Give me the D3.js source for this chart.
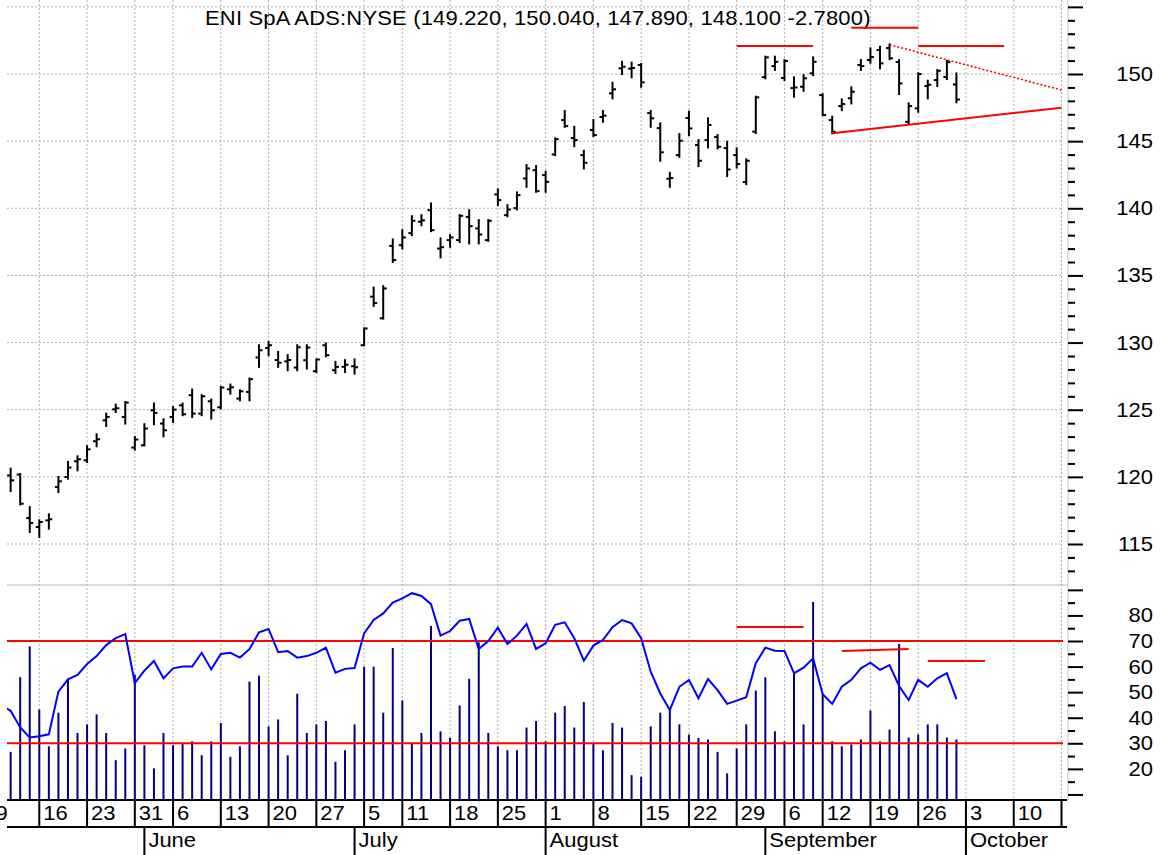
<!DOCTYPE html>
<html>
<head>
<meta charset="utf-8">
<script src="https://cdn.jsdelivr.net/npm/d3@7"></script>
<style>
body { margin: 0; background: #fff; }
svg { display: block; font-family: "Liberation Sans", Arial, sans-serif; }
</style>
</head>
<body>
<div id="chart"></div>
<script>
// chart data
const title = "ENI SpA ADS:NYSE (149.220, 150.040, 147.890, 148.100 -2.7800)";
const holidays = ["2011-05-30", "2011-07-04", "2011-09-05"];
const firstDate = "2011-05-10"; // first value of every series below

const open = [null,
  120.11, 120.17, 116.93, 116.26, 116.76, 119.24, 119.99, 121.16, 121.23, 122.65,
  124.21, 125.03, 124.46, 122.18, 122.35, 124.96, 123.97, 124.46, 125.33, 126.08,
  124.71, 125.63, 125.18, 126.52, 125.83, 126.32, 128.89, 129.60, 128.70, 128.60,
  128.14, 128.69, 127.87, 129.80, 127.94, 128.20, 128.24, 129.80, 133.42, 131.81,
  137.20, 137.25, 138.15, 139.00, 139.86, 137.00, 137.63, 137.63, 139.36, 138.50,
  137.63, 141.03, 139.49, 140.01, 142.22, 142.84, 142.47, 144.01, 146.57, 145.23,
  143.96, 145.83, 146.80, 148.56, 150.42, 150.40, 150.67, 147.09, 145.97, 142.20,
  143.96, 146.72, 144.71, 145.08, 145.30, 144.48, 143.96, 141.95, 145.71, 149.77,
  150.59, 149.70, 148.95, 149.05, 150.05, 148.43, 146.57, 147.61, 148.19, 150.67,
  151.04, 151.79, 151.93, 150.89, 146.44, 147.44, 149.10, 149.55, 149.77, 149.22];
const high = [null,
  120.61, 120.21, 117.75, 116.76, 117.21, 119.99, 121.11, 121.53, 122.28, 123.17,
  124.71, 125.38, 125.58, 122.97, 123.92, 125.46, 124.29, 125.20, 125.46, 126.50,
  126.08, 125.75, 126.70, 126.87, 126.45, 127.32, 129.80, 130.05, 129.30, 129.06,
  129.80, 129.80, 128.74, 129.93, 128.56, 128.69, 128.74, 131.05, 134.09, 134.20,
  137.68, 138.37, 139.41, 139.49, 140.36, 137.76, 138.00, 139.49, 139.86, 139.12,
  139.12, 141.41, 140.23, 141.18, 143.22, 143.14, 142.72, 145.21, 147.24, 146.07,
  144.28, 146.57, 147.24, 149.35, 150.91, 150.84, 150.74, 147.24, 146.32, 142.64,
  145.53, 147.19, 145.08, 146.70, 145.45, 144.95, 144.46, 143.64, 148.31, 151.29,
  151.29, 151.04, 149.75, 149.92, 151.24, 148.49, 146.82, 148.11, 149.01, 151.04,
  151.91, 152.03, 152.21, 151.04, 147.81, 150.05, 149.50, 150.30, 150.97, 150.04];
const low = [null,
  118.94, 117.95, 115.89, 115.52, 116.14, 118.87, 119.87, 120.49, 121.11, 122.28,
  123.79, 124.83, 123.97, 122.03, 122.35, 123.92, 123.02, 124.09, 124.59, 124.46,
  124.59, 124.34, 125.09, 126.20, 125.70, 125.70, 128.19, 129.06, 128.19, 127.94,
  127.94, 128.07, 127.81, 128.98, 127.74, 127.81, 127.69, 129.80, 132.73, 131.79,
  136.01, 137.01, 138.00, 138.74, 138.30, 136.34, 137.13, 137.50, 137.38, 137.38,
  137.58, 140.23, 139.41, 139.91, 141.60, 141.23, 141.23, 143.96, 146.07, 144.63,
  142.97, 145.38, 146.44, 148.19, 150.00, 149.75, 149.05, 146.07, 143.54, 141.60,
  143.83, 145.45, 143.14, 144.53, 144.46, 142.40, 143.04, 141.80, 145.60, 149.68,
  150.30, 149.55, 148.31, 148.75, 149.92, 146.94, 145.58, 147.31, 147.81, 150.30,
  150.84, 150.42, 151.11, 148.51, 146.27, 147.19, 148.19, 149.11, 149.62, 147.89];
const close = [null,
  119.74, 118.00, 116.56, 116.64, 116.84, 119.67, 120.69, 121.31, 122.05, 122.80,
  124.46, 125.11, 125.53, 122.78, 123.60, 124.76, 123.47, 125.01, 124.66, 124.71,
  126.00, 124.96, 126.65, 126.67, 126.37, 127.27, 129.43, 129.80, 128.50, 128.70,
  129.65, 129.63, 128.74, 129.06, 128.19, 128.35, 128.16, 131.05, 132.94, 134.03,
  136.14, 137.83, 139.07, 139.10, 138.37, 137.10, 137.83, 139.44, 138.67, 138.05,
  139.07, 140.61, 139.91, 140.98, 142.97, 141.28, 141.97, 145.15, 146.12, 145.08,
  143.39, 145.45, 146.90, 148.86, 150.54, 150.45, 149.38, 146.70, 144.17, 142.25,
  145.03, 145.95, 143.54, 146.20, 144.58, 142.89, 143.29, 143.54, 148.26, 151.24,
  150.91, 150.97, 149.00, 149.68, 150.91, 146.94, 145.70, 147.76, 148.68, 150.59,
  151.26, 150.79, 151.17, 149.30, 147.61, 150.00, 149.20, 150.24, 150.88, 148.10];
const volume = [null,
  24.2, 61.7, 77.2, 45.5, 27.0, 43.9, 60.4, 33.7, 38.0, 43.0,
  33.7, 20.0, 25.9, 63.0, 27.5, 15.9, 33.7, 27.5, 28.4, 29.5,
  22.5, 29.5, 38.7, 21.7, 27.0, 59.5, 62.5, 37.0, 40.5, 22.5,
  53.4, 33.7, 38.0, 39.7, 19.2, 25.0, 38.0, 67.0, 67.0, 43.9,
  76.4, 50.0, 28.4, 33.7, 87.5, 34.5, 31.2, 47.5, 60.9, 79.2,
  33.7, 27.0, 25.0, 25.0, 36.4, 39.7, 29.5, 43.9, 47.2, 36.4,
  49.2, 28.4, 25.0, 38.7, 36.4, 12.5, 11.7, 37.0, 43.9, 45.9,
  38.0, 32.9, 31.2, 30.4, 24.2, 13.4, 25.9, 38.0, 55.0, 61.7,
  34.5, 29.5, 63.4, 38.0, 99.5, 53.4, 29.5, 27.0, 27.9, 30.4,
  45.0, 29.5, 35.4, 78.4, 31.4, 32.9, 38.0, 38.0, 31.4, 30.4];
const rsi = [45.0,
  42.7, 36.2, 32.3, 32.8, 33.5, 50.2, 55.0, 56.7, 61.0, 64.1,
  68.4, 71.1, 72.7, 53.5, 58.4, 62.2, 55.4, 59.3, 60.0, 60.0,
  65.4, 58.9, 64.9, 65.4, 63.5, 66.8, 73.4, 74.7, 65.6, 66.1,
  63.5, 64.1, 65.4, 67.4, 57.6, 59.1, 59.4, 73.0, 78.2, 80.8,
  85.0, 86.7, 88.7, 87.6, 84.4, 72.1, 73.9, 77.9, 78.6, 66.9,
  70.0, 75.2, 68.8, 72.1, 76.7, 66.9, 69.1, 76.3, 77.3, 71.1,
  62.3, 68.2, 70.4, 75.4, 78.2, 76.9, 71.1, 58.0, 49.5, 43.0,
  52.1, 54.8, 47.6, 55.1, 50.8, 45.4, 46.7, 48.0, 61.3, 67.4,
  66.2, 66.1, 57.4, 59.6, 63.2, 49.2, 45.4, 52.1, 54.8, 59.3,
  61.5, 58.7, 60.6, 52.4, 46.9, 54.8, 52.1, 55.4, 57.4, 47.3];

const rsiBands = [70, 30];
const priceTicks = [115, 120, 125, 130, 135, 140, 145, 150];
const rsiTicks = [20, 30, 40, 50, 60, 70, 80];

// hand drawn trend lines: [date1, value1, date2, value2, dotted]
const priceLines = [
  ["2011-08-29", 152.09, "2011-09-09", 152.09, false],
  ["2011-09-15", 153.45, "2011-09-26", 153.45, false],
  ["2011-09-26", 152.09, "2011-10-07", 152.09, false],
  ["2011-09-13", 145.58, "2011-10-17", 147.49, false],
  ["2011-09-21", 152.18, "2011-10-17", 148.81, true]
];
const rsiLines = [
  ["2011-08-29", 75.5, "2011-09-08", 75.5],
  ["2011-09-14", 66.1, "2011-09-23", 66.9],
  ["2011-09-27", 62.2, "2011-10-05", 62.2]
];

// layout
const W = 1163, H = 855;
const left = 7, right = 1062, axisX = 1068;
const priceTop = 0, priceBottom = 585, lowBottom = 800, dayRow = 827;
const labelRight = 1153, stretch = 1.1;

// trading calendar (weekdays minus exchange holidays)
const parse = d3.timeParse("%Y-%m-%d");
const fmt = d3.timeFormat("%Y-%m-%d");
const days = d3.timeDay.range(parse("2011-05-09"), parse("2011-10-22"))
  .filter(d => d.getDay() > 0 && d.getDay() < 6 && !holidays.includes(fmt(d)));
const dayIndex = new Map(days.map((d, i) => [fmt(d), i]));
const start = dayIndex.get(firstDate);

const bars = close.map((c, i) => ({
  i: start + i, o: open[i], h: high[i], l: low[i], c: c, v: volume[i], r: rsi[i]
}));

const x = d3.scaleLinear()
  .domain([dayIndex.get("2011-05-16"), dayIndex.get("2011-10-17")])
  .range([39.3, 1061.5]);
const yPrice = d3.scaleLinear().domain([115, 150]).range([544, 74]);
const yRsi = d3.scaleLinear().domain([30, 70]).range([743.3, 641]);
const yVol = d3.scaleLinear().domain([0, 100]).range([lowBottom, 601]);

const svg = d3.select("#chart").append("svg")
  .attr("width", W)
  .attr("height", H);

svg.append("rect").attr("width", W).attr("height", H).attr("fill", "#fff");

const defs = svg.append("defs");
defs.append("clipPath").attr("id", "clipPrice").append("rect")
  .attr("x", left).attr("y", priceTop)
  .attr("width", right - left + 1).attr("height", priceBottom - priceTop);
defs.append("clipPath").attr("id", "clipLow").append("rect")
  .attr("x", left).attr("y", priceBottom)
  .attr("width", right - left + 1).attr("height", lowBottom - priceBottom);

function stretchedText(g, tx, ty, str, anchor) {
  return g.append("text")
    .attr("transform", `translate(${tx},${ty}) scale(${stretch},1)`)
    .attr("text-anchor", anchor || "start")
    .style("font-size", "20px")
    .attr("fill", "#000")
    .text(str);
}

// week and month starts
const weekStarts = days.filter((d, i) => i === 0 || +d3.timeMonday.floor(d) !== +d3.timeMonday.floor(days[i - 1]));
const monthStarts = days.filter((d, i) => i > 0 && d.getMonth() !== days[i - 1].getMonth());

// grid
const grid = svg.append("g");
grid.selectAll(".vgrid")
  .data(weekStarts.filter(d => x(dayIndex.get(fmt(d))) >= left))
  .enter()
  .append("line")
  .attr("x1", d => x(dayIndex.get(fmt(d))))
  .attr("x2", d => x(dayIndex.get(fmt(d))))
  .attr("y1", priceTop)
  .attr("y2", lowBottom)
  .attr("stroke", "#b0b0b0")
  .attr("stroke-dasharray", "2,2");

grid.selectAll(".hgrid")
  .data(d3.range(115, 160, 5))
  .enter()
  .append("line")
  .attr("x1", left)
  .attr("x2", right)
  .attr("y1", d => yPrice(d))
  .attr("y2", d => yPrice(d))
  .attr("stroke", "#b0b0b0")
  .attr("stroke-dasharray", "2,2");

// frame lines
svg.append("line")
  .attr("x1", left).attr("x2", axisX)
  .attr("y1", priceBottom).attr("y2", priceBottom)
  .attr("stroke", "#b4b4b4");
svg.append("line")
  .attr("x1", axisX).attr("x2", axisX)
  .attr("y1", 0).attr("y2", lowBottom)
  .attr("stroke", "#c4c4c4");

// title
stretchedText(svg, 205, 25, title).attr("textLength", 605);

// price bars
const priceG = svg.append("g").attr("clip-path", "url(#clipPrice)");
const pb = priceG.selectAll(".ohlc")
  .data(bars.filter(d => d.c !== null))
  .enter()
  .append("g")
  .attr("stroke", "#000")
  .attr("stroke-width", 2);
pb.append("line")
  .attr("x1", d => x(d.i)).attr("x2", d => x(d.i))
  .attr("y1", d => yPrice(d.h) - 1).attr("y2", d => yPrice(d.l) + 1);
pb.append("line")
  .attr("x1", d => x(d.i) - 3.5).attr("x2", d => x(d.i))
  .attr("y1", d => yPrice(d.o)).attr("y2", d => yPrice(d.o));
pb.append("line")
  .attr("x1", d => x(d.i)).attr("x2", d => x(d.i) + 3.5)
  .attr("y1", d => yPrice(d.c)).attr("y2", d => yPrice(d.c));

// price trend lines
priceG.selectAll(".trend")
  .data(priceLines)
  .enter()
  .append("line")
  .attr("x1", d => x(dayIndex.get(d[0])))
  .attr("y1", d => yPrice(d[1]))
  .attr("x2", d => x(dayIndex.get(d[2])))
  .attr("y2", d => yPrice(d[3]))
  .attr("stroke", "#ff0000")
  .attr("stroke-width", d => d[4] ? 1.6 : 2)
  .attr("stroke-dasharray", d => d[4] ? "2,2" : null);

// lower panel
const lowG = svg.append("g").attr("clip-path", "url(#clipLow)");
lowG.selectAll(".vol")
  .data(bars.filter(d => d.v !== null))
  .enter()
  .append("line")
  .attr("x1", d => x(d.i)).attr("x2", d => x(d.i))
  .attr("y1", d => yVol(d.v)).attr("y2", lowBottom)
  .attr("stroke", "#000080")
  .attr("stroke-width", 2);

lowG.selectAll(".band")
  .data(rsiBands)
  .enter()
  .append("line")
  .attr("x1", left).attr("x2", axisX)
  .attr("y1", d => yRsi(d)).attr("y2", d => yRsi(d))
  .attr("stroke", "#ff0000")
  .attr("stroke-width", 2);

lowG.append("path")
  .datum(bars)
  .attr("fill", "none")
  .attr("stroke", "#0000ff")
  .attr("stroke-width", 2)
  .attr("d", d3.line().x(d => x(d.i)).y(d => yRsi(d.r)));

lowG.selectAll(".rtrend")
  .data(rsiLines)
  .enter()
  .append("line")
  .attr("x1", d => x(dayIndex.get(d[0])))
  .attr("y1", d => yRsi(d[1]))
  .attr("x2", d => x(dayIndex.get(d[2])))
  .attr("y2", d => yRsi(d[3]))
  .attr("stroke", "#ff0000")
  .attr("stroke-width", 2);

// right axes
function ticks(scale, major, minor, lo, hi) {
  const inRange = v => scale(v) >= lo && scale(v) <= hi;
  svg.append("g")
    .attr("transform", `translate(${axisX},0)`)
    .call(d3.axisRight(scale).tickValues(major.filter(inRange)).tickSize(15).tickFormat(""))
    .call(g => g.select(".domain").remove())
    .call(g => g.selectAll("line").attr("stroke", "#000").attr("stroke-width", 2));
  svg.append("g")
    .attr("transform", `translate(${axisX},0)`)
    .call(d3.axisRight(scale).tickValues(minor.filter(inRange)).tickSize(7).tickFormat(""))
    .call(g => g.select(".domain").remove())
    .call(g => g.selectAll("line").attr("stroke", "#000").attr("stroke-width", 2));
}
ticks(yPrice, d3.range(115, 160, 5), d3.range(112, 156).filter(v => v % 5 !== 0), 2, 580);
ticks(yRsi, d3.range(10, 100, 10), d3.range(15, 90, 10), 588, 798);

priceTicks.forEach(v => stretchedText(svg, labelRight, yPrice(v) + 7, v, "end"));
rsiTicks.forEach(v => stretchedText(svg, labelRight, yRsi(v) + 7, v, "end"));

// date axis
const dateG = svg.append("g");
dateG.append("line").attr("x1", left).attr("x2", axisX - 1)
  .attr("y1", lowBottom).attr("y2", lowBottom).attr("stroke", "#000").attr("stroke-width", 2);
dateG.append("line").attr("x1", left).attr("x2", axisX - 1)
  .attr("y1", dayRow).attr("y2", dayRow).attr("stroke", "#000").attr("stroke-width", 2);

dateG.selectAll(".wsep")
  .data(weekStarts.filter(d => x(dayIndex.get(fmt(d))) >= left))
  .enter()
  .append("line")
  .attr("x1", d => x(dayIndex.get(fmt(d))))
  .attr("x2", d => x(dayIndex.get(fmt(d))))
  .attr("y1", lowBottom).attr("y2", dayRow)
  .attr("stroke", "#000").attr("stroke-width", 2);

weekStarts
  .filter(d => x(dayIndex.get(fmt(d))) < right - 10)
  .forEach(d => stretchedText(dateG, x(dayIndex.get(fmt(d))) + 4, 820, d.getDate()));

dateG.selectAll(".msep")
  .data(monthStarts)
  .enter()
  .append("line")
  .attr("x1", d => x(dayIndex.get(fmt(d))))
  .attr("x2", d => x(dayIndex.get(fmt(d))))
  .attr("y1", dayRow).attr("y2", H)
  .attr("stroke", "#000").attr("stroke-width", 2);

monthStarts.forEach(d => stretchedText(dateG, x(dayIndex.get(fmt(d))) + 4, 847, d3.timeFormat("%B")(d)));
</script>
</body>
</html>
